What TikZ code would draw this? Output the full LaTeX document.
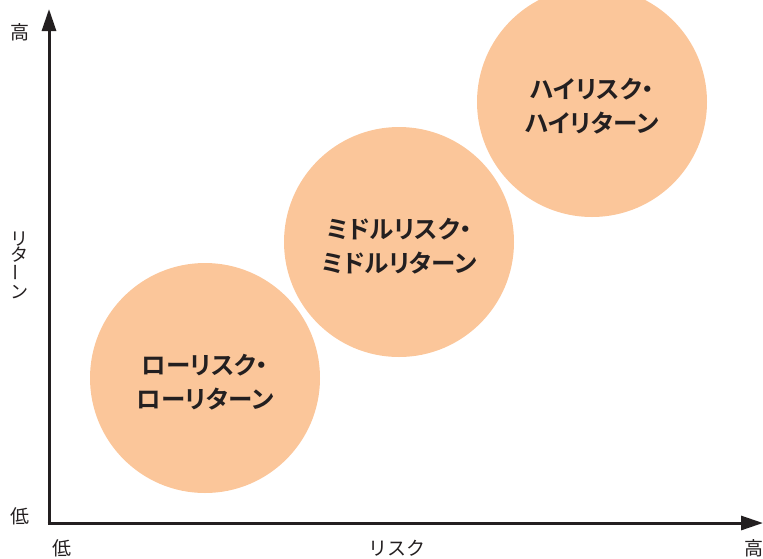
\documentclass[tikz,border=0pt]{standalone}
\usepackage{fontspec}
\usepackage{graphicx}
\newfontfamily\jp{Noto Sans CJK JP}
\newfontfamily\jpb[RawFeature=+palt]{Noto Sans CJK JP Bold}
\usetikzlibrary{arrows.meta}
\definecolor{peach}{RGB}{251,198,154}
\definecolor{ink}{RGB}{35,31,32}
\begin{document}
\begin{tikzpicture}[x=1pt,y=-1pt,
  bubble/.style={circle,fill=peach,minimum size=230pt,inner sep=0pt},
  bubbletext/.style={inner sep=0pt,align=center,
    font=\jpb\fontsize{24.5}{34}\selectfont,text=ink},
  axislbl/.style={inner sep=0pt,font=\jp\fontsize{19}{19}\selectfont,text=ink},
  axisline/.style={line width=3pt,draw=ink,-{Triangle[length=22pt,width=14pt]}}]
\useasboundingbox (0,0) rectangle (763,558);
\node[bubble] (low) at (205,378) {};
\node[bubble] (mid) at (399,242) {};
\node[bubble] (high) at (592,102) {};
\node[bubbletext] (lowt) at ([yshift=-4pt]low.center) {ローリスク・\\ローリターン};
\node[bubbletext] (midt) at ([yshift=-4pt]mid.center) {ミドルリスク・\\ミドルリターン};
\node[bubbletext] (hight) at ([yshift=-4pt]high.center) {ハイリスク・\\ハイリターン};
\coordinate (o) at (49,523);
\coordinate (ytop) at (49,9);
\coordinate (xend) at (763,523);
\draw[axisline] ([yshift=-1.5pt]o) -- (ytop);
\draw[axisline] ([xshift=-1.5pt]o) -- (xend);
\node[axislbl] (yhigh) at (20,32) {高};
\node[axislbl] (ylow) at (20,516) {低};
\node[axislbl,align=center,font=\jp\fontsize{18}{16.5}\selectfont] (ylab) at (19,265) {リ\\タ\\\rotatebox{90}{ー}\\ン};
\node[axislbl] (xlow) at (62,548) {低};
\node[axislbl] (xlab) at (397,548) {リスク};
\node[axislbl] (xhigh) at (754,548) {高};
\end{tikzpicture}
\end{document}
